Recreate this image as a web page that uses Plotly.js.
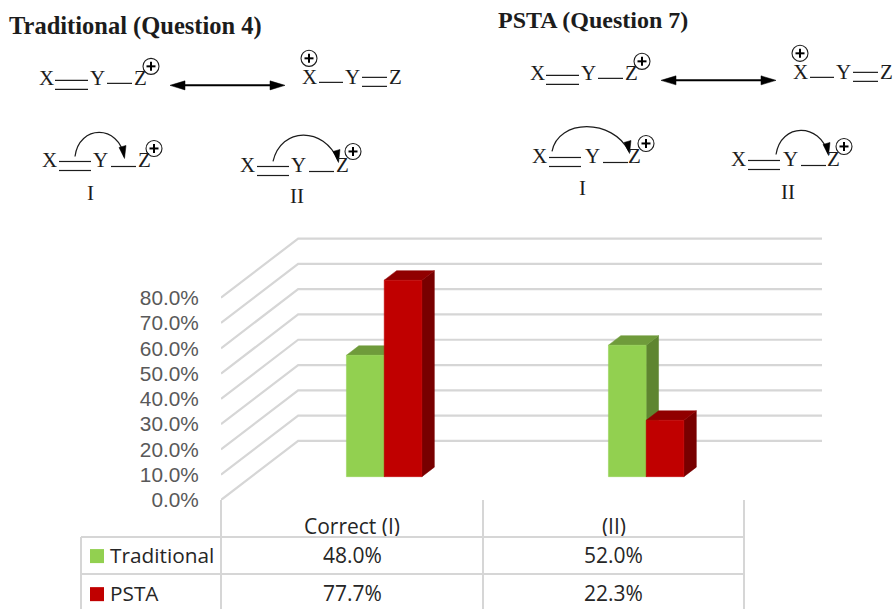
<!DOCTYPE html>
<html><head><meta charset="utf-8">
<script src="https://cdn.plot.ly/plotly-3.0.1.min.js"></script>
<style>html,body{margin:0;padding:0;background:#fff}#c{width:893px;height:609px}</style>
</head><body><div id="c"></div><script>
// ---- chart data ----
const categories = ['Correct (I)', '(II)'];
const seriesNames = ['Traditional', 'PSTA'];
const traditional = [48.0, 52.0];
const psta = [77.7, 22.3];
const yTicks = [0, 10, 20, 30, 40, 50, 60, 70, 80];
const titles = ['Traditional (Question 4)', 'PSTA (Question 7)'];

// ---- styling ----
const faces = {Traditional:{front:'#92d050', top:'#6f9b3b', side:'#5e8530'},
               PSTA:{front:'#c00000', top:'#900000', side:'#780000'}};
const GRID = '#d6d6d6', INK = '#1c1c1c';

// ---- oblique projection in axis units ----
const YMAX=104, PL=221, PR=822, PB=500, PT=PB-YMAX*2.525;  // plot rectangle
const XMIN=-0.5, XMAX=1.794;
const depthX=0.2945, depthY=23.37;         // floor depth, axis units
const barD=0.395, barDepth=0.161;          // where a bar starts, how deep
const barW=0.144, barShift=[-0.0656,0.0786];

function proj(x,v,d){return [x+d*depthX, v+d*depthY];}
function poly(pts){const xs=[],ys=[];pts.forEach(p=>{const q=proj(p[0],p[1],p[2]);xs.push(q[0]);ys.push(q[1]);});xs.push(xs[0]);ys.push(ys[0]);return {xs,ys};}
function face(pts,color){const p=poly(pts);return {type:'scatter',mode:'lines',x:p.xs,y:p.ys,fill:'toself',fillcolor:color,line:{color:color,width:0.5},hoverinfo:'skip',showlegend:false,cliponaxis:false};}

const traces=[];
// gridlines: side wall + back wall
const gx=[],gy=[];
yTicks.forEach(v=>{const a=proj(XMIN,v,0),b=proj(XMIN,v,1),c=[XMAX,v+depthY];
  gx.push(a[0],b[0],c[0],null);gy.push(a[1],b[1],c[1],null);});
traces.push({type:'scatter',mode:'lines',x:gx,y:gy,line:{color:GRID,width:2.2},hoverinfo:'skip',showlegend:false,cliponaxis:false});

categories.forEach((c,i)=>{
  [traditional,psta].forEach((vals,s)=>{
    const f=faces[seriesNames[s]], v=vals[i];
    const x0=i+barShift[s]-barW/2, x1=x0+barW, d0=barD, d1=barD+barDepth;
    traces.push(face([[x1,0,d0],[x1,0,d1],[x1,v,d1],[x1,v,d0]],f.side));
    traces.push(face([[x0,v,d0],[x1,v,d0],[x1,v,d1],[x0,v,d1]],f.top));
    traces.push(face([[x0,0,d0],[x1,0,d0],[x1,v,d0],[x0,v,d0]],f.front));
  });
});

// ---- pixel helpers for the table and the reaction drawings ----
const px=x=>(x-PL)/(PR-PL), py=y=>(PB-y)/(PB-PT);
const shapes=[], annotations=[];
function line(x0,y0,x1,y1,color,w){shapes.push({type:'line',xref:'paper',yref:'paper',x0:px(x0),y0:py(y0),x1:px(x1),y1:py(y1),line:{color:color,width:w}});}
function path(cmds,stroke,w,fill){
  const d=cmds.map(c=>c[0]+(c.length>1?' '+c.slice(1).reduce((a,v,j)=>a+(j?(j%2?',':' '):'')+(j%2?py(v):px(v)),''):'')).join(' ');
  shapes.push({type:'path',xref:'paper',yref:'paper',path:d,line:{color:stroke,width:w},fillcolor:fill||'rgba(0,0,0,0)'});}
function text(t,x,y,size,opt){opt=opt||{};annotations.push({xref:'paper',yref:'paper',x:px(x),y:py(y),text:t,showarrow:false,xanchor:opt.anchor||'center',yanchor:'middle',borderpad:0,font:{family:opt.family||'Liberation Serif',size:size,color:opt.color||INK}});}
function atom(t,x,y){text(t,x,y+1,21);}

// table
const colX=[81,221,483,744], rowY=[537,574];
[221,483,744].forEach(x=>line(x,500,x,609,GRID,2));
line(81,537,81,609,GRID,2);
rowY.forEach(y=>line(81,y,744,y,GRID,2));
const rowC=[555,593], swatch=[549,587];
const TF='Open Sans';
seriesNames.forEach((n,s)=>{
  shapes.push({type:'rect',xref:'paper',yref:'paper',x0:px(90),x1:px(104),y0:py(swatch[s]),y1:py(swatch[s]+14),fillcolor:faces[n].front,line:{width:0}});
  text(n,109,rowC[s],20.8,{anchor:'left',family:TF,color:'#262626'});
  [traditional,psta][s].forEach((v,i)=>{
    text(v.toFixed(1)+'%',(colX[i+1]+colX[i+2])/2,rowC[s],21,{family:TF,color:'#262626'});
  });
});

// reaction drawings
function plus(x,y){
  shapes.push({type:'circle',xref:'paper',yref:'paper',x0:px(x-8),x1:px(x+8),y0:py(y-8),y1:py(y+8),line:{color:INK,width:1.1},fillcolor:'rgba(0,0,0,0)'});
  line(x-4.5,y,x+4.5,y,'#000',2);line(x,y-4.5,x,y+4.5,'#000',2);
}
function dbl(x0,x1,y0,y1){line(x0,y0,x1,y0,INK,1.2);line(x0,y1,x1,y1,INK,1.2);}
function leftForm(dx,dy){
  atom('X',46+dx,78+dy);dbl(55+dx,88+dx,81+dy,90+dy);atom('Y',97+dx,78+dy);
  line(107+dx,84+dy,132+dx,84+dy,INK,1.2);atom('Z',140+dx,78+dy);plus(151+dx,67+dy);
}
function rightForm(dx,dy){
  atom('X',309+dx,77+dy);plus(309+dx,59+dy);line(319+dx,83+dy,343+dx,83+dy,INK,1.2);
  atom('Y',352+dx,77+dy);dbl(362+dx,387+dx,78+dy,87+dy);atom('Z',395+dx,77+dy);
}
function dblArrow(x0,x1,y){
  line(x0+8,y,x1-8,y,'#000',2);
  path([['M',x0,y],['L',x0+15,y-4.5],['L',x0+15,y+4.5],['Z']],'#000',0.5,'#000');
  path([['M',x1,y],['L',x1-15,y-4.5],['L',x1-15,y+4.5],['Z']],'#000',0.5,'#000');
}
function form(x,y,sx,sz,pl,lab,lx,ly,arc){
  atom('X',x,y);dbl(x+10,x+42,y+2,y+11);atom('Y',sx,y);
  line(sx+11,y+7,sx+36,y+7,INK,1.2);atom('Z',sz,y);plus(pl[0],pl[1]);
  atom(lab,lx,ly);
  const [a,b]=arc;
  path([['M',a[0],a[1]],['C',a[0]+arc[2],arc[3],b[0]-arc[4],arc[3],b[0],b[1]]],INK,1.2);
  path([['M',b[0]+0.5,b[1]+2],['L',b[0]-5,b[1]-9],['L',b[0]+2,b[1]-11],['Z']],'#000',0.5,'#000');
}
text('<b>'+titles[0]+'</b>',8,27,24.5,{anchor:'left'});
text('<b>'+titles[1]+'</b>',497,21,24,{anchor:'left'});
leftForm(0,0);rightForm(0,0);dblArrow(170,285,86);
leftForm(491,-5);rightForm(491,-5);dblArrow(661,776,81);
form(49,160,100,144,[154,149],'I',90,192,[[75,157],[124,157],4,125,5]);
form(247,165,298,342,[353,152],'II',297,195,[[273,162],[338,161],8,127,14]);
form(539,156,592,634,[646,144],'I',582,187,[[552,152],[629,152],6,119,16]);
form(738,159,790,833,[844,147],'II',788,191,[[776,155],[828,154],5,123,8]);

const layout={
  width:893,height:609,paper_bgcolor:'#fff',plot_bgcolor:'rgba(0,0,0,0)',showlegend:false,
  margin:{l:PL,r:893-PR,t:PT,b:609-PB,pad:0},
  xaxis:{range:[XMIN,XMAX],tickmode:'array',tickvals:[0,1],ticktext:categories,showgrid:false,zeroline:false,showline:false,
    ticks:'outside',ticklen:8,tickcolor:'rgba(0,0,0,0)',tickfont:{family:TF,size:21,color:'#262626'}},
  yaxis:{range:[0,YMAX],tickmode:'array',tickvals:yTicks,ticktext:yTicks.map(v=>v.toFixed(1)+'%'),showgrid:false,zeroline:false,showline:false,
    ticks:'outside',ticklen:17,tickcolor:'rgba(0,0,0,0)',tickfont:{family:'Liberation Sans',size:20.8,color:'#595959'}},
  shapes,annotations
};
Plotly.newPlot('c',traces,layout,{staticPlot:true,displayModeBar:false});
</script></body></html>
